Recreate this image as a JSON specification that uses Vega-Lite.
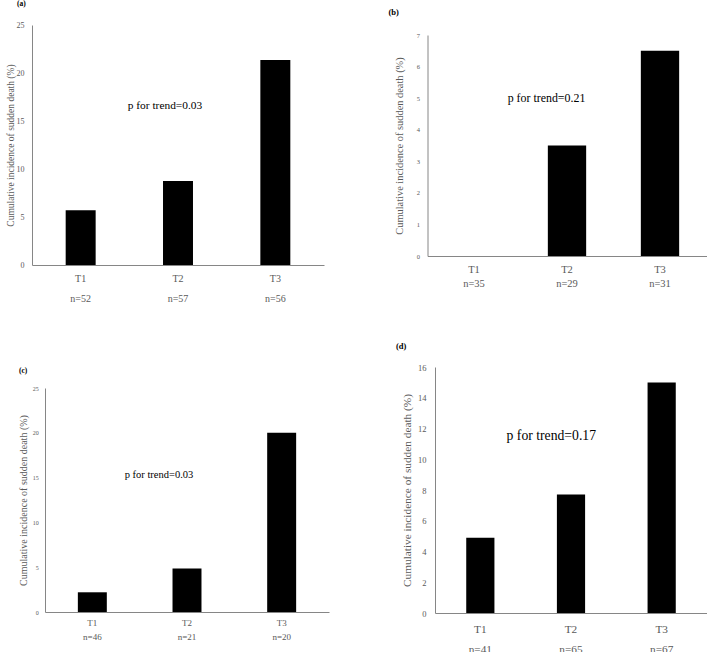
{
  "$schema": "https://vega.github.io/schema/vega-lite/v6.json",
  "background": "white",
  "padding": {"left": 5, "top": 0, "right": 0, "bottom": 0},
  "config": {
    "view": {"stroke": null},
    "font": "Liberation Serif",
    "axis": {
      "domainColor": "#868686",
      "domainWidth": 1,
      "ticks": false,
      "grid": false,
      "labelColor": "#595959",
      "titleColor": "#595959",
      "labelFont": "Liberation Serif",
      "titleFont": "Liberation Serif",
      "titleFontWeight": "normal",
      "labelOverlap": false
    },
    "title": {"font": "Liberation Serif", "color": "black", "fontWeight": "bold", "anchor": "start", "frame": "group"}
  },
  "datasets": {
    "bars": [
      {"panel": "a", "group": "T1 n=52", "value": 5.7},
      {"panel": "a", "group": "T2 n=57", "value": 8.75},
      {"panel": "a", "group": "T3 n=56", "value": 21.35},
      {"panel": "b", "group": "T1 n=35", "value": 0},
      {"panel": "b", "group": "T2 n=29", "value": 3.5},
      {"panel": "b", "group": "T3 n=31", "value": 6.5},
      {"panel": "c", "group": "T1 n=46", "value": 2.2},
      {"panel": "c", "group": "T2 n=21", "value": 4.85},
      {"panel": "c", "group": "T3 n=20", "value": 20.0},
      {"panel": "d", "group": "T1 n=41", "value": 4.9},
      {"panel": "d", "group": "T2 n=65", "value": 7.7},
      {"panel": "d", "group": "T3 n=67", "value": 15.0}
    ],
    "notes": [
      {"panel": "a", "group": "T2 n=57", "value": 16.6, "note": "p for trend=0.03"},
      {"panel": "b", "group": "T2 n=29", "value": 5.0, "note": "p for trend=0.21"},
      {"panel": "c", "group": "T2 n=21", "value": 15.3, "note": "p for trend=0.03"},
      {"panel": "d", "group": "T2 n=65", "value": 11.5, "note": "p for trend=0.17"}
    ]
  },
  "spacing": 37,
  "vconcat": [
    {
      "spacing": 64.5,
      "hconcat": [
        {
          "width": 292, "height": 240,
          "title": {"text": "(a)", "fontSize": 7.5, "dx": -15, "offset": 13.5},
          "layer": [
            {
              "data": {"name": "bars"},
              "transform": [{"filter": "datum.panel === 'a'"}],
              "mark": {"type": "bar", "color": "black"},
              "encoding": {
                "x": {"field": "group", "type": "nominal", "sort": null,
                  "scale": {"paddingInner": 0.692, "paddingOuter": 0.346},
                  "axis": {"title": null, "labelAngle": 0, "labelExpr": "split(datum.label, ' ')", "labelFontSize": 10, "labelLineHeight": 20.7, "labelPadding": 8}},
                "y": {"field": "value", "type": "quantitative",
                  "scale": {"domain": [0, 25], "nice": false},
                  "axis": {"title": "Cumulative incidence of sudden death (%)", "values": [0, 5, 10, 15, 20, 25], "tickCount": 30, "format": "d", "labelFontSize": 8, "labelPadding": 8, "titleFontSize": 9.5, "titlePadding": 1}}
              }
            },
            {
              "data": {"name": "notes"},
              "transform": [{"filter": "datum.panel === 'a'"}],
              "mark": {"type": "text", "dx": -13, "fontSize": 11.4, "color": "black", "baseline": "middle"},
              "encoding": {
                "x": {"field": "group", "type": "nominal"},
                "y": {"field": "value", "type": "quantitative"},
                "text": {"field": "note"}
              }
            }
          ]
        },
        {
          "width": 279, "height": 231,
          "title": {"text": "(b)", "fontSize": 8.5, "dx": -39, "offset": 9},
          "layer": [
            {
              "data": {"name": "bars"},
              "transform": [{"filter": "datum.panel === 'b'"}],
              "mark": {"type": "bar", "color": "black"},
              "encoding": {
                "x": {"field": "group", "type": "nominal", "sort": null,
                  "scale": {"paddingInner": 0.588, "paddingOuter": 0.294},
                  "axis": {"title": null, "labelAngle": 0, "labelExpr": "split(datum.label, ' ')", "labelFontSize": 10.5, "labelLineHeight": 14.7, "labelPadding": 8}},
                "y": {"field": "value", "type": "quantitative",
                  "scale": {"domain": [0, 7], "nice": false, "range": [231, 10]},
                  "axis": {"title": "Cumulative incidence of sudden death (%)", "values": [0, 1, 2, 3, 4, 5, 6, 7], "tickCount": 30, "format": "d", "labelFontSize": 6.5, "labelPadding": 8, "titleFontSize": 10.4, "titlePadding": 12}}
              }
            },
            {
              "data": {"name": "notes"},
              "transform": [{"filter": "datum.panel === 'b'"}],
              "mark": {"type": "text", "dx": -20.5, "fontSize": 11.9, "color": "black", "baseline": "middle"},
              "encoding": {
                "x": {"field": "group", "type": "nominal"},
                "y": {"field": "value", "type": "quantitative"},
                "text": {"field": "note"}
              }
            }
          ]
        }
      ]
    },
    {
      "spacing": 67,
      "hconcat": [
        {
          "width": 297, "height": 245,
          "title": {"text": "(c)", "fontSize": 7.5, "dx": -13, "offset": 0, "dy": 7},
          "layer": [
            {
              "data": {"name": "bars"},
              "transform": [{"filter": "datum.panel === 'c'"}],
              "mark": {"type": "bar", "color": "black"},
              "encoding": {
                "x": {"field": "group", "type": "nominal", "sort": null,
                  "scale": {"paddingInner": 0.694, "paddingOuter": 0.347, "range": [13, 297]},
                  "axis": {"title": null, "labelAngle": 0, "labelExpr": "split(datum.label, ' ')", "labelFontSize": 9, "labelLineHeight": 14, "labelPadding": 6.5}},
                "y": {"field": "value", "type": "quantitative",
                  "scale": {"domain": [0, 25], "nice": false, "range": [245, 21]},
                  "axis": {"title": "Cumulative incidence of sudden death (%)", "values": [0, 5, 10, 15, 20, 25], "tickCount": 30, "format": "d", "offset": -13, "labelFontSize": 6, "labelPadding": 6.7, "titleFontSize": 10, "titlePadding": 4}}
              }
            },
            {
              "data": {"name": "notes"},
              "transform": [{"filter": "datum.panel === 'c'"}],
              "mark": {"type": "text", "dx": -28, "fontSize": 10.5, "color": "black", "baseline": "middle"},
              "encoding": {
                "x": {"field": "group", "type": "nominal"},
                "y": {"field": "value", "type": "quantitative"},
                "text": {"field": "note"}
              }
            }
          ]
        },
        {
          "width": 272, "height": 246,
          "title": {"text": "(d)", "fontSize": 8.5, "dx": -39, "offset": 13},
          "layer": [
            {
              "data": {"name": "bars"},
              "transform": [{"filter": "datum.panel === 'd'"}],
              "mark": {"type": "bar", "color": "black"},
              "encoding": {
                "x": {"field": "group", "type": "nominal", "sort": null,
                  "scale": {"paddingInner": 0.689, "paddingOuter": 0.3445},
                  "axis": {"title": null, "labelAngle": 0, "labelExpr": "split(datum.label, ' ')", "labelFontSize": 11.3, "labelLineHeight": 20, "labelPadding": 10}},
                "y": {"field": "value", "type": "quantitative",
                  "scale": {"domain": [0, 16], "nice": false},
                  "axis": {"title": "Cumulative incidence of sudden death (%)", "values": [0, 2, 4, 6, 8, 10, 12, 14, 16], "tickCount": 30, "format": "d", "labelFontSize": 8.5, "labelPadding": 9, "titleFontSize": 11.3, "titlePadding": 4.6}}
              }
            },
            {
              "data": {"name": "notes"},
              "transform": [{"filter": "datum.panel === 'd'"}],
              "mark": {"type": "text", "dx": -19.7, "fontSize": 13.7, "color": "black", "baseline": "middle"},
              "encoding": {
                "x": {"field": "group", "type": "nominal"},
                "y": {"field": "value", "type": "quantitative"},
                "text": {"field": "note"}
              }
            }
          ]
        }
      ]
    }
  ]
}
